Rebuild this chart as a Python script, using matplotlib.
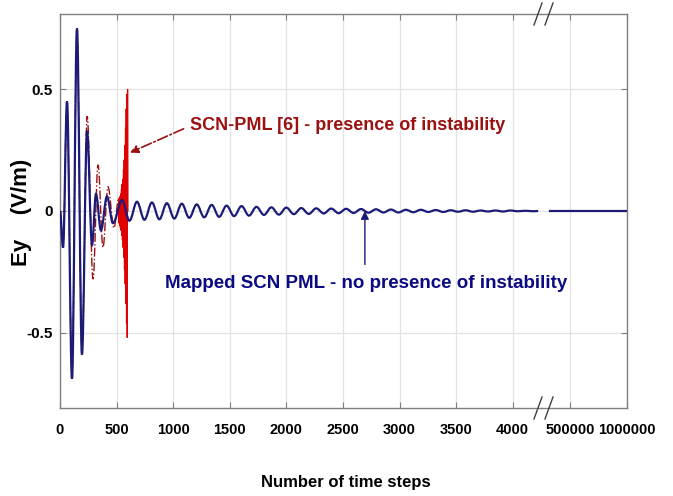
import matplotlib
matplotlib.use("Agg")
import matplotlib.pyplot as plt
from matplotlib.lines import Line2D
from matplotlib.path import Path
from matplotlib.patches import PathPatch

plt.rcParams['font.family'] = ['Liberation Sans', 'DejaVu Sans']
plt.rcParams['font.weight'] = 'bold'

# ---- data (extrema of the field, time step -> Ey) ----
blue_t = [0, 27, 62, 106, 150, 194, 239, 283, 318, 362, 415, 468, 548, 614,
          680, 746, 812, 878, 944, 1010, 1076, 1142, 1208, 1274, 1340, 1406,
          1472, 1538, 1604, 1670, 1736, 1802, 1868, 1934, 2000, 2066, 2132,
          2198, 2264, 2330, 2396, 2462, 2528, 2594, 2660, 2726, 2792, 2858,
          2924, 2990, 3056, 3122, 3188, 3254, 3320, 3386, 3452, 3518, 3584,
          3650, 3716, 3782, 3848, 3914, 3980, 4046, 4112, 4178, 4225]
blue_y = [0.0, -0.15, 0.45, -0.69, 0.75, -0.59, 0.33, -0.14, 0.07, -0.08, 0.06, -0.05, 0.045, -0.04,
          0.038, -0.036, 0.035, -0.034, 0.032, -0.031, 0.030, -0.028, 0.027, -0.026, 0.025, -0.024,
          0.022, -0.021, 0.020, -0.019, 0.017, -0.016, 0.015, -0.015, 0.014, -0.013, 0.012,
          -0.012, 0.011, -0.010, 0.010, -0.009, 0.009, -0.008, 0.008, -0.007, 0.007, -0.006,
          0.006, -0.006, 0.005, -0.005, 0.005, -0.004, 0.004, -0.004, 0.003, -0.003, 0.003,
          -0.003, 0.002, -0.002, 0.002, -0.002, 0.002, -0.001, 0.001, -0.001, 0.0]

# far part of the run (after the axis break)
blue_far_t = [325000, 1000000]
blue_far_y = [0.0, 0.0]

red_t = [0, 27, 62, 106, 150, 194, 240, 292, 336, 380, 424, 477, 518]
red_y = [0.0, -0.15, 0.45, -0.69, 0.75, -0.59, 0.39, -0.28, 0.19, -0.15, 0.10, -0.07, 0.05]

burst_t = [518, 522, 525, 528, 531, 534, 537, 540, 543, 546, 549, 552, 555, 558, 561, 564,
           567, 570, 573, 576, 579, 582, 585, 588, 591, 594, 597, 600]
burst_y = [0.05, -0.05, 0.05, -0.06, 0.06, -0.07, 0.07, -0.08, 0.09, -0.10, 0.11, -0.12, 0.13,
           -0.15, 0.17, -0.19, 0.21, -0.24, 0.27, -0.30, 0.34, -0.38, 0.42, -0.46, 0.48, -0.52,
           0.50, 0.0]

left_ticks = [0, 500, 1000, 1500, 2000, 2500, 3000, 3500, 4000]
right_ticks = [500000, 1000000]
y_ticks = [-0.5, 0, 0.5]

navy = '#1c1c78'
dark_red = '#9b1010'
spine_gray = '#808080'


def wave_path(t, y):
    # smooth curve through the extrema (horizontal tangent at every peak)
    verts = [(t[0], y[0])]
    codes = [Path.MOVETO]
    for i in range(1, len(t)):
        d = (t[i] - t[i - 1]) * 0.36
        verts += [(t[i - 1] + d, y[i - 1]), (t[i] - d, y[i]), (t[i], y[i])]
        codes += [Path.CURVE4] * 3
    return Path(verts, codes)


fig = plt.figure(figsize=(6.73, 4.96), dpi=100)
W, H = 673, 496
axL = fig.add_axes([60 / W, 1 - 408 / H, 481 / W, 394 / H])
axR = fig.add_axes([541 / W, 1 - 408 / H, 86 / W, 394 / H], sharey=axL)
axL.set_zorder(2)

axL.add_patch(PathPatch(wave_path(red_t, red_y), fill=False, edgecolor=dark_red,
                        lw=1.0, ls='-.', zorder=3))
axL.plot(burst_t, burst_y, color='#e00000', lw=0.9, zorder=3)
axL.add_patch(PathPatch(wave_path(blue_t, blue_y), fill=False, edgecolor=navy,
                        lw=1.6, zorder=4))
axR.plot(blue_far_t, blue_far_y, color=navy, lw=1.6, zorder=4)

axL.set_xlim(0, 4250)
axR.set_xlim(245000, 1000000)
axL.set_ylim(-0.81, 0.81)

axL.set_xticks(left_ticks)
axL.set_xticklabels([str(v) for v in left_ticks])
axR.set_xticks(right_ticks)
axR.set_xticklabels([str(v) for v in right_ticks])
axL.set_yticks(y_ticks)
axL.set_yticklabels(['-0.5', '0', '0.5'])

for ax in (axL, axR):
    ax.grid(True, color='#e3e3e3', lw=0.9)
    ax.set_axisbelow(True)
    ax.tick_params(direction='in', length=4, color=spine_gray, labelsize=10.5,
                   top=True, pad=11)
    ax.tick_params(axis='y', pad=5, labelsize=11)
    for s in ax.spines.values():
        s.set_color(spine_gray)
        s.set_linewidth(1.0)

axL.spines['right'].set_visible(False)
axR.spines['left'].set_visible(False)
axR.tick_params(axis='y', left=False, right=True, labelleft=False)

# axis break marks
for yc in (14, 408):
    for xc in (538, 549):
        fig.add_artist(Line2D([(xc - 4) / W, (xc + 4) / W],
                              [1 - (yc + 11) / H, 1 - (yc - 11) / H],
                              color='#404040', lw=1.0, zorder=10))

# labels
fig.text(346 / W, 1 - 482 / H, 'Number of time steps', ha='center', va='center', fontsize=12)
fig.text(22 / W, 1 - 212 / H, 'Ey    (V/m)', ha='center', va='center', rotation=90, fontsize=16)

axL.annotate('SCN-PML [6] - presence of instability', xy=(618, 0.24), xytext=(1150, 0.35),
             ha='left', va='center', color=dark_red, fontsize=13,
             arrowprops=dict(arrowstyle='-|>', color=dark_red, lw=1.2, ls='-.',
                             relpos=(0, 0.5), shrinkA=3, shrinkB=0, mutation_scale=12))

axL.annotate('', xy=(2694, 0.0), xytext=(2694, -0.22),
             arrowprops=dict(arrowstyle='-|>', color=navy, lw=1.0, shrinkA=0, shrinkB=0,
                             mutation_scale=12))
axL.text(928, -0.30, 'Mapped SCN PML - no presence of instability', ha='left', va='center',
         color='#0a0a82', fontsize=13.5)

fig.savefig('out.png', dpi=100)
